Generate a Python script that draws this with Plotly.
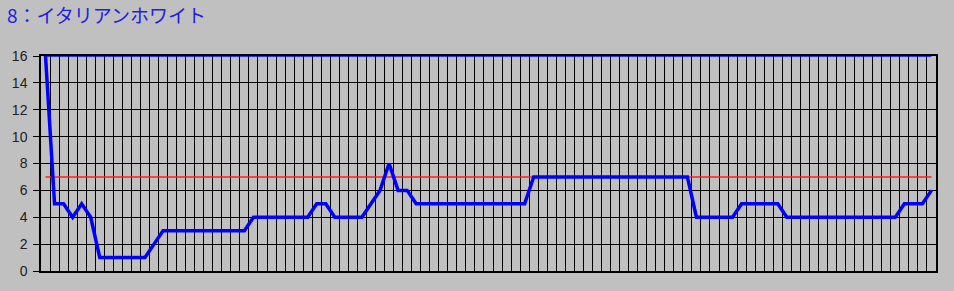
import plotly.graph_objects as go

# ---- data ----
title_text = "8：イタリアンホワイト"
values = ([16, 5, 5, 4, 5, 4] + [1] * 6 + [2] + [3] * 10 + [4] * 7 + [5] * 2 + [4] * 4
          + [5, 6, 8, 6, 6] + [5] * 13 + [7] * 18 + [4] * 5 + [5] * 5 + [4] * 13 + [5] * 3 + [6])
limit_value = 7
max_value = 16
y_ticks = [0, 2, 4, 6, 8, 10, 12, 14, 16]

n = len(values)
xs = list(range(n))

fig = go.Figure()
fig.add_trace(go.Scatter(x=xs, y=[max_value] * n, mode="lines",
                         line=dict(color="#0000ff", width=1.5), hoverinfo="skip"))
fig.add_trace(go.Scatter(x=xs, y=[limit_value] * n, mode="lines",
                         line=dict(color="#ff2020", width=1.5), hoverinfo="skip"))
fig.add_trace(go.Scatter(x=xs, y=values, mode="lines",
                         line=dict(color="#0000ff", width=3.5)))

fig.update_layout(
    width=954, height=291,
    margin=dict(l=40, r=18, t=56, b=18),
    paper_bgcolor="#c0c0c0", plot_bgcolor="#c0c0c0",
    showlegend=False,
    title=dict(text=title_text, x=7 / 954, xanchor="left", xref="container",
               y=(291 - 16) / 291, yanchor="middle", yref="container",
               font=dict(family="Noto Sans CJK JP", size=19, color="#2020e0")),
    xaxis=dict(range=[-0.5, n - 0.5], tickmode="array",
               tickvals=[k + 0.5 for k in range(n - 1)],
               showticklabels=False, ticks="", showgrid=True,
               gridcolor="#000000", gridwidth=1.2, zeroline=False,
               showline=True, linecolor="#000000", linewidth=1.5, mirror=True),
    yaxis=dict(range=[0, 16], tickmode="array", tickvals=y_ticks,
               ticks="outside", ticklen=6, tickcolor="#000000", tickwidth=1.2,
               ticklabelstandoff=3,
               showgrid=True, gridcolor="#000000", gridwidth=1.2, zeroline=False,
               showline=True, linecolor="#000000", linewidth=1.5, mirror=True,
               tickfont=dict(family="Liberation Sans", size=14, color="#202020")),
)

fig.write_html("out.html")
